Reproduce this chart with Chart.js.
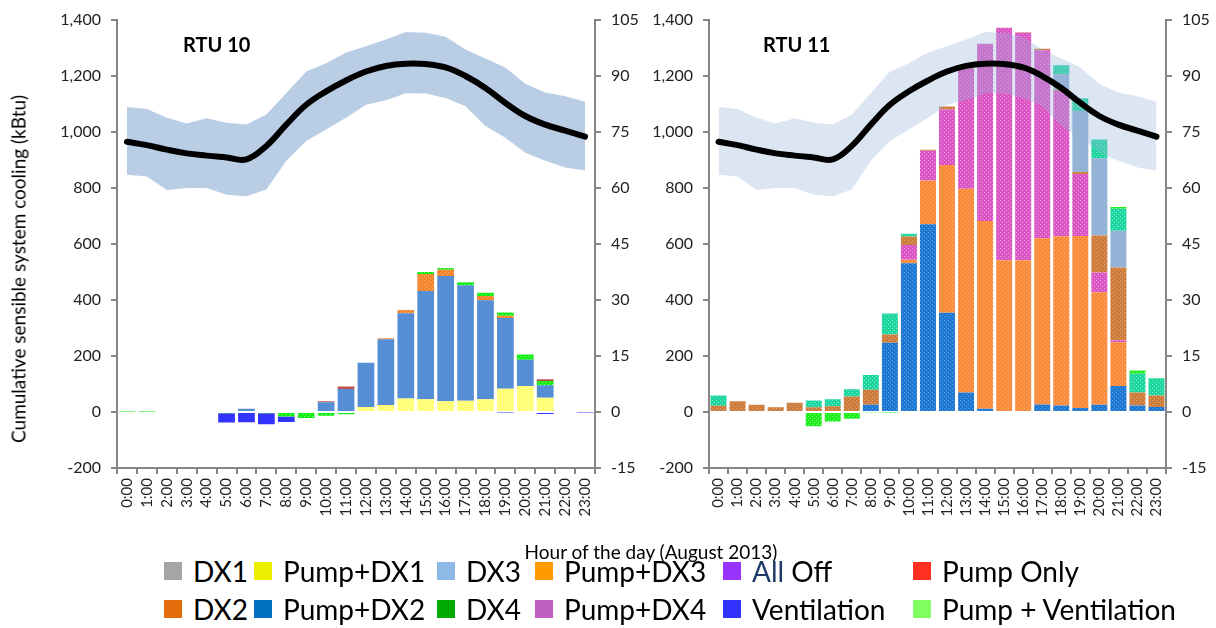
<!DOCTYPE html>
<html>
<head>
<meta charset="utf-8">
<script src="https://cdn.jsdelivr.net/npm/chart.js@4.4.1/dist/chart.umd.min.js"></script>
<style>
  body { margin: 0; background: #fff; width: 1216px; height: 628px; position: relative; overflow: hidden; font-family: Lato, sans-serif; }
  .wrap { position: absolute; top: 0; height: 545px; }
  #w10 { left: 0; width: 640px; }
  #w11 { left: 640px; width: 576px; }
  .unit { position: absolute; top: 32px; font: bold 20px Lato, sans-serif; color: #000; }
  #ytitle { position: absolute; left: 18px; top: 269px; transform: translate(-50%, -50%) rotate(-90deg); white-space: nowrap; font-size: 19px; color: #000; }
  #xtitle { position: absolute; left: 651px; top: 551px; transform: translate(-50%, -50%); white-space: nowrap; font-size: 19px; color: #000; }
  .lg { position: absolute; display: flex; align-items: center; font-size: 28px; color: #000; white-space: nowrap; }
  .lg i { display: inline-block; width: 18px; height: 18px; margin-right: 11px; }
</style>
</head>
<body>
<div class="wrap" id="w10"><canvas id="rtu10"></canvas></div>
<div class="wrap" id="w11"><canvas id="rtu11"></canvas></div>
<div class="unit" style="left:183px">RTU 10</div>
<div class="unit" style="left:763px">RTU 11</div>
<div id="ytitle">Cumulative sensible system cooling (kBtu)</div>
<div id="xtitle">Hour of the day (August 2013)</div>
<div id="legend"></div>
<script>
// hours of the day
const hours = ['0:00','1:00','2:00','3:00','4:00','5:00','6:00','7:00','8:00','9:00','10:00','11:00',
  '12:00','13:00','14:00','15:00','16:00','17:00','18:00','19:00','20:00','21:00','22:00','23:00'];

// outdoor temperature (right axis, F)
const tempHigh = [81.6,81.1,78.7,77.2,78.6,77.4,76.9,79.6,85.3,91.1,93.3,96.2,97.9,99.7,101.7,101.5,100.4,97.0,94.6,92.2,87.8,85.5,84.5,83.0];
const tempLow  = [63.5,63.0,59.4,59.9,59.9,58.1,57.7,59.5,67.2,72.5,75.6,78.7,82.2,83.4,85.3,85.2,84.0,81.8,76.5,73.4,69.4,67.2,65.4,64.6];
const tempMean = [72.3,71.4,70.2,69.2,68.6,68.1,67.6,71.2,76.9,82.2,85.8,88.7,91.1,92.6,93.2,93.1,92.2,89.9,86.7,82.7,79.2,76.9,75.3,73.7];

// RTU 10 cooling by mode (kBtu)
const rtu10PumpDx1  = [0,0,0,0,0,0,0,0,0,0,0,3,18,25,48,45,38,40,45,83,93,51,0,0];
const rtu10PumpDx2  = [0,0,0,0,0,0,11,0,0,0,35,79,158,234,304,387,447,412,354,252,93,44,0,0];
const rtu10PumpDx3  = [0,0,0,0,0,0,0,0,0,0,0,0,0,4,12,60,22,0,15,8,0,0,0,0];
const rtu10PumpVent = [2,2,0,0,0,-5,0,-5,-16,-22,-14,-8,0,0,0,7,7,11,11,12,19,15,3,0];
const rtu10PumpOnly = [0,0,0,0,0,0,0,0,0,0,3,9,0,0,0,0,0,0,0,0,0,7,0,0];
const rtu10Vent     = [0,0,0,0,0,-33,-37,-39,-20,0,0,0,0,0,0,0,0,0,0,-2,0,-7,0,-2];

// RTU 11 cooling by mode (kBtu)
const rtu11PumpDx2  = [0,0,0,0,0,0,0,0,26,247,531,670,354,69,11,0,0,27,23,14,26,93,23,18];
const rtu11PumpDx3  = [0,0,0,0,0,0,0,0,0,0,12,156,527,727,670,541,541,593,604,614,401,156,0,0];
const rtu11PumpDx4  = [0,0,0,0,0,0,0,0,0,0,53,106,198,429,633,830,812,671,518,221,71,7,0,0];
const rtu11Dx2      = [22,38,26,17,33,17,20,55,53,29,30,4,11,2,0,0,2,5,5,7,132,259,46,41];
const rtu11Dx3      = [0,0,0,0,0,0,0,0,0,0,0,0,0,0,0,0,0,0,55,218,275,132,0,0];
const rtu11Dx4      = [37,0,0,0,0,24,25,26,53,75,10,0,0,0,0,0,0,0,32,45,67,78,67,60];
const rtu11PumpVent = [0,0,0,0,0,-51,-34,-24,-3,-2,0,0,0,0,0,0,0,0,0,0,0,6,12,2];

// legend
const legendLabels = ['DX1','Pump+DX1','DX3','Pump+DX3','All Off','Pump Only',
                      'DX2','Pump+DX2','DX4','Pump+DX4','Ventilation','Pump + Ventilation'];
const legendColors = ['#A5A5A5','#EEEE00','#8EB8E5','#FF9A00','#9933FF','#FF3020',
                      '#E46C0A','#0070C0','#00AA00','#C060C0','#3333FF','#80FF60'];

const leg = document.getElementById('legend');
const colX = [164, 254, 437, 535, 723, 913];
legendLabels.forEach((name, i) => {
  const d = document.createElement('div');
  d.className = 'lg';
  d.style.left = colX[i % 6] + 'px';
  d.style.top = (i < 6 ? 571 : 609) - 18 + 'px';
  d.style.height = '36px';
  d.innerHTML = `<i style="background:${legendColors[i]}"></i>` +
    (name === 'All Off' ? '<span style="color:#1F3A64">All</span>&nbsp;Off' : name);
  leg.appendChild(d);
});

// Excel-like dotted fill
function dotted(base, dot) {
  const c = document.createElement('canvas');
  c.width = c.height = 4;
  const g = c.getContext('2d');
  g.fillStyle = base; g.fillRect(0, 0, 4, 4);
  g.fillStyle = dot; g.fillRect(0, 0, 1, 1); g.fillRect(2, 2, 1, 1);
  return g.createPattern(c, 'repeat');
}

const font = { family: 'Lato, sans-serif', size: 16 };
const axisGrey = '#868686';

function bar(label, data, color) {
  return { type: 'bar', label, data, backgroundColor: color, borderWidth: 0, yAxisID: 'y', order: 2,
           barPercentage: 0.84, categoryPercentage: 1 };
}

function tempSets(bandColor, bandOrder) {
  return [
    { type: 'line', label: 'high', data: tempHigh, yAxisID: 'y2', borderWidth: 0, pointRadius: 0,
      fill: '+1', backgroundColor: bandColor, order: bandOrder, tension: 0 },
    { type: 'line', label: 'low', data: tempLow, yAxisID: 'y2', borderWidth: 0, pointRadius: 0,
      fill: false, order: bandOrder, tension: 0 },
    { type: 'line', label: 'mean', data: tempMean, yAxisID: 'y2', borderColor: '#000', borderWidth: 6,
      pointRadius: 0, fill: false, order: 0, tension: 0.4, borderCapStyle: 'round' }
  ];
}

function scales(leftW, rightW) {
  const grid = { drawOnChartArea: false, color: axisGrey, lineWidth: 2, tickLength: 6 };
  const border = { color: axisGrey, width: 2 };
  return {
    x: { stacked: true, grid: Object.assign({ offset: true }, grid), border,
         ticks: { font: { family: font.family, size: 15 }, color: '#222', minRotation: 90, maxRotation: 90, autoSkip: false, padding: 4 },
         afterFit: s => { s.height = 77; } },
    y: { stacked: true, min: -200, max: 1400, grid, border,
         ticks: { stepSize: 200, font, color: '#222', padding: 10 },
         afterFit: s => { s.width = leftW; } },
    y2: { type: 'linear', position: 'right', min: -15, max: 105, grid, border,
          ticks: { stepSize: 15, font, color: '#222', padding: 10 },
          afterFit: s => { s.width = rightW; } }
  };
}

const common = {
  responsive: true, maintainAspectRatio: false, animation: false,
  layout: { padding: { top: 16, bottom: 0, left: 0, right: 0 } },
  plugins: { legend: { display: false }, tooltip: { enabled: false } }
};

new Chart(document.getElementById('rtu10'), {
  type: 'bar',
  data: {
    labels: hours,
    datasets: [
      bar('Pump+DX1', rtu10PumpDx1, dotted('#FFFF70', '#FFFFC8')),
      bar('Pump+DX2', rtu10PumpDx2, '#558ED5'),
      bar('Pump+DX3', rtu10PumpDx3, dotted('#F5852C', '#FBB27A')),
      bar('Pump + Ventilation', rtu10PumpVent, dotted('#11EE11', '#88FF88')),
      bar('Pump Only', rtu10PumpOnly, '#C0504D'),
      bar('Ventilation', rtu10Vent, '#3333FF'),
      ...tempSets('#B9CDE5', 5)
    ]
  },
  options: Object.assign({ scales: scales(117, 45) }, common)
});

new Chart(document.getElementById('rtu11'), {
  type: 'bar',
  data: {
    labels: hours,
    datasets: [
      bar('Pump+DX2', rtu11PumpDx2, dotted('#1E78D2', '#5AA0E6')),
      bar('Pump+DX3', rtu11PumpDx3, dotted('#F98B3A', '#FBB27A')),
      bar('Pump+DX4', rtu11PumpDx4, dotted('#DC55C4', '#EE99DD')),
      bar('DX2', rtu11Dx2, dotted('#CD7C3C', '#E0A878')),
      bar('DX3', rtu11Dx3, '#95B3D7'),
      bar('DX4', rtu11Dx4, dotted('#1CD6A0', '#7FE9C9')),
      bar('Pump + Ventilation', rtu11PumpVent, dotted('#1EF01E', '#8CF88C')),
      ...tempSets('rgba(149,179,215,0.33)', 1)
    ]
  },
  options: Object.assign({ scales: scales(69, 50) }, common)
});
</script>
</body>
</html>
